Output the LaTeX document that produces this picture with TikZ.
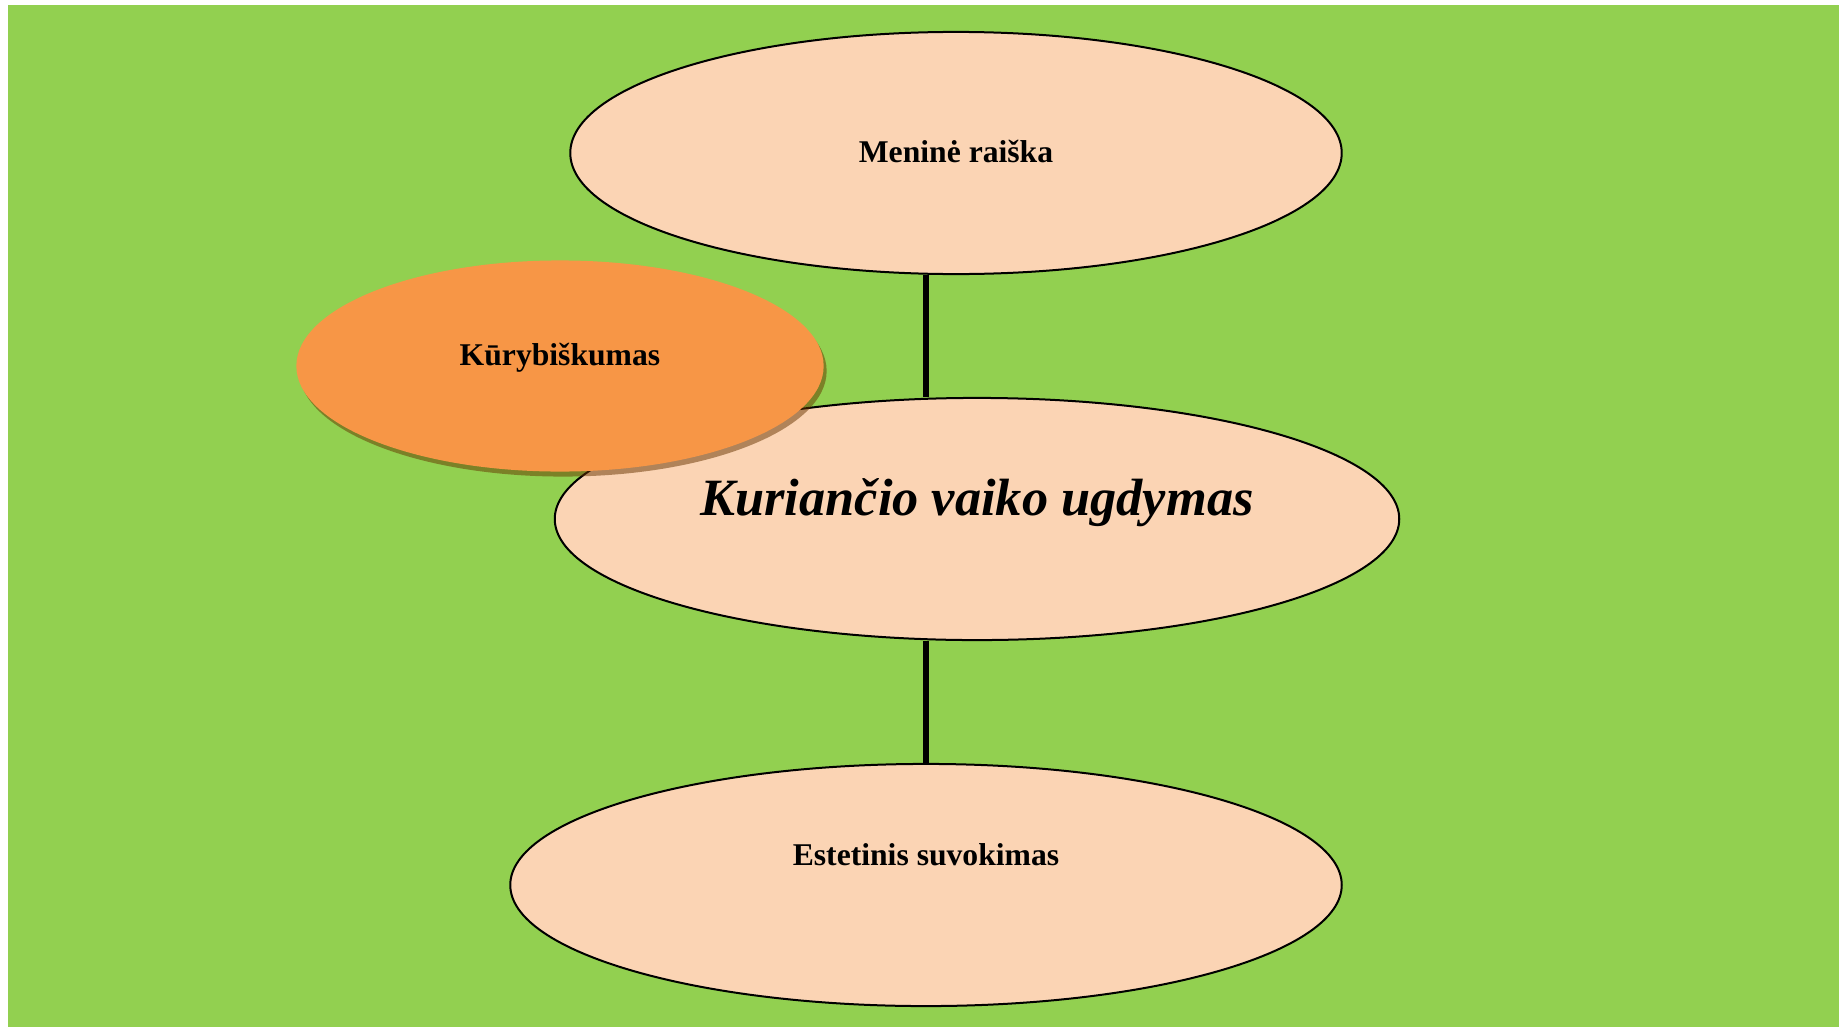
\documentclass[tikz,border=0pt]{standalone}
\usepackage{fontspec}
\setmainfont{Liberation Serif}
\usepackage{tikz}
\usetikzlibrary{shapes.geometric,shadows}
\usepackage{xcolor}
\definecolor{meadow}{HTML}{92D050}
\definecolor{peach}{HTML}{FBD4B4}
\definecolor{tangerine}{HTML}{F79646}

\begin{document}
\begin{tikzpicture}[x=0.01cm,y=-0.01cm,
            bubble/.style={ellipse,draw=black,line width=0.02cm,fill=peach,inner sep=0pt,minimum height=2.42cm},
            word/.style={font=\fontsize{9}{10}\selectfont\bfseries,inner sep=0pt},
            link/.style={line width=0.06cm,draw=black}]

            \useasboundingbox (0,0) rectangle (1839,1027);
            \fill[meadow] (8,5) rectangle (1839,1027);

            % ellipses
            \node[bubble,minimum width=7.71cm] (art) at (956,153) {};
            \node[bubble,minimum width=8.44cm] (child) at (977,519) {};
            \node[bubble,minimum width=8.31cm] (sense) at (926,885) {};
            \node[ellipse,fill=tangerine,inner sep=0pt,minimum width=5.27cm,minimum height=2.11cm,
               drop shadow={shadow xshift=0.03cm,shadow yshift=-0.05cm,fill=black!60!orange,opacity=.5}] (create) at (560,366) {};

            % texts
            \node[word] (artT) at (956,151) {Meninė raiška};
            \node[word] (senseT) at (926,855) {Estetinis suvokimas};
            \node[word] (createT) at (560,358) {Kūrybiškumas};
            \node[font=\fontsize{14.9}{17}\selectfont\bfseries\itshape,inner sep=0pt] (childT) at (977,503) {Kuriančio vaiko ugdymas};

            % connectors
            \draw[link] (art.south -| sense.north) -- (child.north -| sense.north);
            \draw[link] (child.south -| sense.north) -- (sense.north);
         \end{tikzpicture}
\end{document}
